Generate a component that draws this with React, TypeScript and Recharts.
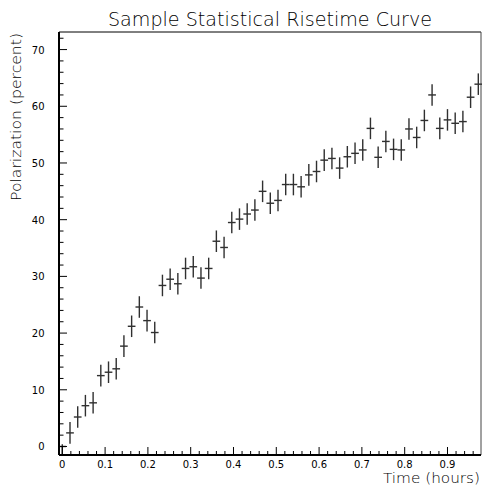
import React from "react";
import { ScatterChart, Scatter, XAxis, YAxis, ErrorBar, ReferenceLine } from "recharts";

// Measurement times (hours)
const time = [
  0, 0.018, 0.036, 0.054, 0.072, 0.09, 0.108, 0.126, 0.144, 0.162, 0.18,
  0.198, 0.216, 0.234, 0.252, 0.27, 0.288, 0.306, 0.324, 0.342, 0.36, 0.378,
  0.396, 0.414, 0.432, 0.45, 0.468, 0.486, 0.504, 0.522, 0.54, 0.558, 0.576,
  0.594, 0.612, 0.63, 0.648, 0.666, 0.684, 0.702, 0.72, 0.738, 0.756, 0.774,
  0.792, 0.81, 0.828, 0.846, 0.864, 0.882, 0.9, 0.918, 0.936, 0.954, 0.972,
];

// Polarization (percent)
const polarization = [
  0, 2.4, 5.2, 7.2, 7.7, 12.5, 13.1, 13.7, 17.7, 21.2, 24.6, 22.2, 20.1,
  28.4, 29.5, 28.7, 31.4, 31.7, 29.7, 31.4, 36.2, 35.1, 39.5, 40.1, 41.0, 41.7, 45.0, 42.9,
  43.4, 46.2, 46.2, 45.8, 47.9, 48.5, 50.5, 50.8, 49.1, 51.1, 51.7, 52.3, 56.1, 51.0,
  53.8, 52.4, 52.3, 56.0, 54.5, 57.5, 62.0, 56.1, 57.6, 57.0, 57.3, 61.6, 63.9,
];

// vertical error (first point is asymmetric: [down, up])
const polErr: (number | [number, number])[] = [
  [1.5, 0.4], 1.9, 1.9, 1.9, 1.9, 1.9, 1.9, 1.9, 1.9, 1.9, 1.9, 1.9, 1.9,
  1.9, 1.9, 1.9, 1.9, 1.9, 1.9, 1.9, 1.9, 1.9, 1.9, 1.9, 1.9, 1.9, 1.9, 1.9,
  1.9, 1.9, 1.9, 1.9, 1.9, 1.9, 1.9, 1.9, 1.9, 1.9, 1.9, 1.9, 1.9, 1.9,
  1.9, 1.9, 1.9, 1.9, 1.9, 1.9, 1.9, 1.9, 1.9, 1.9, 1.9, 1.9, 1.9,
];
const TIME_ERR = 0.009; // half bin width

const xMajorTicks = [0, 0.1, 0.2, 0.3, 0.4, 0.5, 0.6, 0.7, 0.8, 0.9];
const xMinorTicks = [
  0.02, 0.04, 0.06, 0.08, 0.12, 0.14, 0.16, 0.18, 0.22, 0.24, 0.26, 0.28,
  0.32, 0.34, 0.36, 0.38, 0.42, 0.44, 0.46, 0.48, 0.52, 0.54, 0.56, 0.58,
  0.62, 0.64, 0.66, 0.68, 0.72, 0.74, 0.76, 0.78, 0.82, 0.84, 0.86, 0.88,
  0.92, 0.94, 0.96,
];
const yMajorTicks = [0, 10, 20, 30, 40, 50, 60, 70];
const yMinorTicks = [
  2, 4, 6, 8, 12, 14, 16, 18, 22, 24, 26, 28, 32, 34, 36, 38, 42, 44, 46, 48,
  52, 54, 56, 58, 62, 64, 66, 68, 72,
];

const X_DOMAIN: [number, number] = [-0.0077, 0.9783];
const Y_DOMAIN: [number, number] = [-1.5, 73.1];

const FONT = "'DejaVu Sans', 'Open Sans', sans-serif";
const LABEL_WEIGHT = 200; // thin, like the plotter font
const INK = "#000";
const BAR = "#303030";

const data = time.map((t, i) => ({
  t,
  p: polarization[i],
  et: TIME_ERR,
  ep: polErr[i],
}));

const fmt = (v: number) => (v === 0 ? "0" : String(v));

function XTick({ x, y, payload }: any) {
  const major = xMajorTicks.includes(payload.value);
  return (
    <g>
      <line x1={x} x2={x} y1={y} y2={y - (major ? 8 : 4)} stroke={INK} strokeWidth={1} />
      {major && (
        <text x={x} y={y + 12.5} textAnchor="middle" fontSize={10} fontFamily={FONT} fill={INK}>
          {fmt(payload.value)}
        </text>
      )}
    </g>
  );
}

function YTick({ x, y, payload }: any) {
  const major = yMajorTicks.includes(payload.value);
  return (
    <g>
      <line x1={x} x2={x + (major ? 8 : 4.5)} y1={y} y2={y} stroke={INK} strokeWidth={1} />
      {major && (
        <text x={x - 14.5} y={y + 4} textAnchor="end" fontSize={10} fontFamily={FONT} fill={INK}>
          {fmt(payload.value)}
        </text>
      )}
    </g>
  );
}

function XLabel({ viewBox }: any) {
  return (
    <text
      x={viewBox.x + viewBox.width - 1}
      y={viewBox.y + 28.3}
      textAnchor="end"
      fontSize={14}
      fontFamily={FONT}
      fontWeight={LABEL_WEIGHT}
      fill={INK}
      textLength={97}
      lengthAdjust="spacingAndGlyphs"
    >
      Time (hours)
    </text>
  );
}

function YLabel({ viewBox }: any) {
  const cx = 21;
  const cy = viewBox.y + 85;
  return (
    <text
      x={cx}
      y={cy}
      transform={`rotate(-90 ${cx} ${cy})`}
      textAnchor="middle"
      fontSize={14}
      fontFamily={FONT}
      fontWeight={LABEL_WEIGHT}
      fill={INK}
      textLength={168}
      lengthAdjust="spacingAndGlyphs"
    >
      Polarization (percent)
    </text>
  );
}

function Title({ viewBox }: any) {
  return (
    <text
      x={viewBox.x + viewBox.width / 2}
      y={viewBox.y - 6.5}
      textAnchor="middle"
      fontSize={19}
      fontFamily={FONT}
      fontWeight={LABEL_WEIGHT}
      fill={INK}
      textLength={324}
      lengthAdjust="spacingAndGlyphs"
    >
      Sample Statistical Risetime Curve
    </text>
  );
}

export default function App() {
  return (
    <div style={{ position: "absolute", left: 0, top: 0, width: 482, height: 487, background: "#fff" }}>
      <ScatterChart width={482} height={487} margin={{ top: 32, right: 1, bottom: 0, left: 0 }}>
        <XAxis
          type="number"
          dataKey="t"
          domain={X_DOMAIN}
          allowDataOverflow
          ticks={[...xMajorTicks, ...xMinorTicks]}
          interval={0}
          tick={<XTick />}
          tickLine={false}
          tickSize={0}
          tickMargin={0}
          height={32}
          axisLine={{ stroke: INK, strokeWidth: 2 }}
          label={<XLabel />}
        />
        <YAxis
          type="number"
          dataKey="p"
          domain={Y_DOMAIN}
          allowDataOverflow
          ticks={[...yMajorTicks, ...yMinorTicks]}
          interval={0}
          tick={<YTick />}
          tickLine={false}
          tickSize={0}
          tickMargin={0}
          width={59}
          axisLine={{ stroke: INK, strokeWidth: 2 }}
          label={<YLabel />}
        />
        {/* top and right frame */}
        <ReferenceLine y={Y_DOMAIN[1]} stroke={INK} strokeWidth={1} label={<Title />} />
        <ReferenceLine x={X_DOMAIN[1]} stroke="#444" strokeWidth={1} />
        <Scatter data={data} shape={() => <g />} isAnimationActive={false}>
          <ErrorBar dataKey="ep" direction="y" width={0} stroke={BAR} strokeWidth={1.4} isAnimationActive={false} />
          <ErrorBar dataKey="et" direction="x" width={0} stroke={BAR} strokeWidth={1.4} isAnimationActive={false} />
        </Scatter>
      </ScatterChart>
    </div>
  );
}
